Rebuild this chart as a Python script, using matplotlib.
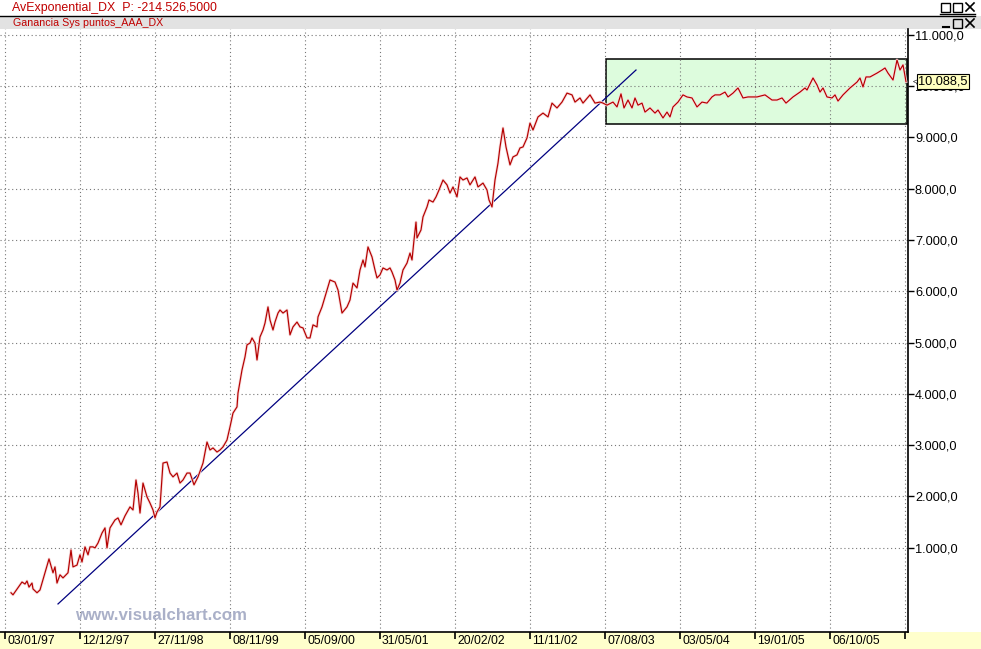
import matplotlib
matplotlib.use("Agg")
import matplotlib.pyplot as plt
from matplotlib.patches import Rectangle
from matplotlib.lines import Line2D
import matplotlib.patheffects as pe

plt.rcParams['font.family'] = ['Liberation Sans', 'DejaVu Sans']

# equity curve (bar index, points)
bars = [18, 24, 51, 60, 66, 72, 81, 84, 96, 105, 132, 144, 150, 156, 165, 174, 189, 198, 204, 216,
        225, 231, 240, 249, 255, 264, 270, 279, 291, 300, 306, 315, 330, 339, 348, 360, 375, 384, 393, 399,
        405, 414, 426, 435, 444, 450, 456, 465, 474, 486, 495, 504, 516, 525, 534, 546, 555, 567, 579, 594,
        606, 615, 624, 636, 645, 654, 666, 675, 684, 696, 699, 711, 720, 726, 735, 741, 750, 756, 765, 774,
        780, 789, 795, 804, 810, 819, 825, 834, 846, 855, 864, 876, 885, 894, 906, 915, 924, 936, 939, 951,
        966, 975, 990, 999, 1011, 1026, 1035, 1044, 1056, 1065, 1074, 1080, 1089, 1101, 1110, 1116, 1125, 1134, 1146, 1155,
        1161, 1170, 1176, 1185, 1194, 1206, 1215, 1221, 1227, 1233, 1236, 1248, 1254, 1266, 1272, 1284, 1293, 1302, 1314, 1326,
        1335, 1344, 1356, 1365, 1374, 1386, 1395, 1410, 1419, 1434, 1446, 1452, 1461, 1470, 1479, 1485, 1494, 1503, 1515, 1524,
        1536, 1545, 1554, 1566, 1575, 1584, 1599, 1614, 1629, 1641, 1656, 1671, 1686, 1701, 1710, 1725, 1734, 1755, 1770, 1785,
        1794, 1806, 1824, 1836, 1848, 1857, 1869, 1881, 1890, 1899, 1911, 1920, 1935, 1950, 1959, 1974, 1986, 1995, 2004, 2019,
        2034, 2046, 2061, 2076, 2091, 2106, 2121, 2130, 2145, 2160, 2169, 2184, 2199, 2214, 2229, 2244, 2256, 2280, 2301, 2316,
        2331, 2343, 2364, 2385, 2400, 2406, 2424, 2436, 2445, 2454, 2466, 2481, 2490, 2499, 2514, 2535, 2556, 2565, 2574, 2583,
        2595, 2616, 2631, 2640, 2649, 2664, 2676, 2685, 2694, 2703]
equity = [120, 80, 330, 290, 350, 230, 310, 195, 120, 175, 780, 510, 625, 310, 470, 410, 510, 955, 625, 660,
          860, 720, 1015, 860, 1015, 1015, 995, 1090, 1285, 1385, 995, 1385, 1540, 1580, 1445, 1620, 1795, 1735, 2320, 2065,
          1675, 2260, 1990, 1870, 1735, 1580, 1695, 1795, 2650, 2670, 2455, 2380, 2455, 2260, 2320, 2455, 2455, 2225, 2380, 2650,
          3060, 2905, 2945, 2865, 2905, 2965, 3100, 3355, 3625, 3745, 4015, 4465, 4720, 4955, 4990, 5090, 4990, 4660, 5110, 5245,
          5380, 5695, 5440, 5245, 5400, 5575, 5635, 5575, 5635, 5150, 5305, 5400, 5305, 5285, 5090, 5090, 5345, 5305, 5500, 5695,
          6025, 6220, 6180, 6025, 5575, 5695, 5830, 6160, 6065, 6415, 6610, 6475, 6865, 6670, 6415, 6260, 6320, 6455, 6415, 6455,
          6375, 6220, 6025, 6160, 6415, 6550, 6745, 6610, 7000, 7350, 7040, 7195, 7450, 7645, 7780, 7740, 7840, 7975, 8170, 8075,
          7915, 8035, 7840, 8230, 8170, 8210, 8075, 8230, 8035, 8110, 7975, 7780, 7645, 8170, 8500, 8815, 9185, 8815, 8465, 8620,
          8660, 8795, 8815, 8990, 9280, 9145, 9400, 9475, 9400, 9670, 9575, 9690, 9865, 9830, 9690, 9770, 9670, 9830, 9670, 9690,
          9670, 9630, 9690, 9595, 9850, 9575, 9730, 9575, 9770, 9630, 9670, 9495, 9575, 9475, 9535, 9380, 9495, 9400, 9595, 9690,
          9830, 9790, 9770, 9595, 9690, 9670, 9790, 9830, 9830, 9885, 9790, 9865, 9965, 9770, 9790, 9790, 9790, 9830, 9730, 9730,
          9770, 9670, 9790, 9885, 9965, 9925, 10160, 10025, 9885, 9965, 9790, 9770, 9830, 9710, 9830, 9965, 10080, 10160, 9985, 10180,
          10180, 10255, 10315, 10355, 10255, 10120, 10510, 10315, 10415, 10088.5]

trend_bars = [159, 1893]
trend_vals = [-98, 10315]

box_bars = [1803, 2706]
box_vals = [9260, 10530]

tick_bars = [0, 225, 450, 675, 900, 1125, 1350, 1575, 1800, 2025, 2250, 2475, 2700]
tick_dates = ['03/01/97', '12/12/97', '27/11/98', '08/11/99', '05/09/00', '31/05/01', '20/02/02',
              '11/11/02', '07/08/03', '03/05/04', '19/01/05', '06/10/05', '']
y_ticks = [1000, 2000, 3000, 4000, 5000, 6000, 7000, 8000, 9000, 10000, 11000]

last_value = 10088.5


def es_num(v):
    return f"{v:,.1f}".replace(',', 'X').replace('.', ',').replace('X', '.')


W, H = 981, 649
fig = plt.figure(figsize=(W / 100, H / 100), dpi=100)
fig.patch.set_facecolor('white')


def fy(py):
    return 1 - py / H


# bottom yellow band and header
fig.patches.append(Rectangle((0, 0), 1, 17 / H, transform=fig.transFigure,
                             facecolor='#ffffcc', edgecolor='none', zorder=-5))
fig.patches.append(Rectangle((0, fy(29)), 1, 13 / H, transform=fig.transFigure,
                             facecolor='#e2e2e2', edgecolor='none', zorder=-5))
fig.lines.append(Line2D([0, 975 / W], [fy(15.5), fy(15.5)], transform=fig.transFigure, color='black', lw=1))
fig.text(12 / W, fy(7.5), 'AvExponential_DX  P: -214.526,5000', color='#c00000', fontsize=8.9, va='center', ha='left')
fig.text(13 / W, fy(22.5), 'Ganancia Sys puntos_AAA_DX', color='#c00000', fontsize=7.7, va='center', ha='left')

# little window buttons
for row_y in (3, 19):
    for i, x0 in enumerate((941, 953, 965)):
        if row_y == 19 and i == 0:
            fig.lines.append(Line2D([(x0 + 2) / W, (x0 + 8) / W], [fy(row_y + 8), fy(row_y + 8)],
                                    transform=fig.transFigure, color='black', lw=1.5))
            continue
        if i == 2:
            fig.lines.append(Line2D([(x0 + 1) / W, (x0 + 9) / W], [fy(row_y), fy(row_y + 8)],
                                    transform=fig.transFigure, color='black', lw=1.2))
            fig.lines.append(Line2D([(x0 + 1) / W, (x0 + 9) / W], [fy(row_y + 8), fy(row_y)],
                                    transform=fig.transFigure, color='black', lw=1.2))
            continue
        fig.patches.append(Rectangle((x0 / W, fy(row_y + 9)), 9 / W, 9 / H, transform=fig.transFigure,
                                     facecolor='none', edgecolor='black', lw=1))
fig.lines.append(Line2D([940 / W, 975 / W], [fy(13.5), fy(13.5)], transform=fig.transFigure, color='black', lw=1))

ax = fig.add_axes([0, 17 / H, 908 / W, (632 - 29) / H])
ax.set_xlim(-15, 2709)
ax.set_ylim(-645, 11115)
ax.set_facecolor('white')

ax.add_patch(Rectangle((box_bars[0], box_vals[0]), box_bars[1] - box_bars[0], box_vals[1] - box_vals[0],
                       facecolor='#ddfcdd', edgecolor='black', lw=1.1, zorder=0.5))

for b in tick_bars:
    ax.axvline(b, color='#777777', lw=0.8, linestyle=(0, (1, 2.5)), zorder=1)
for v in y_ticks:
    ax.axhline(v, color='#777777', lw=0.8, linestyle=(0, (1, 2.5)), zorder=1)

ax.plot(trend_bars, trend_vals, color='#000080', lw=0.9, zorder=2)
ax.plot(bars, equity, color='#b40000', lw=0.85, zorder=3,
        path_effects=[pe.Stroke(linewidth=2.0, foreground='#f8dada'), pe.Normal()])

for s in ('top', 'left'):
    ax.spines[s].set_visible(False)
ax.spines['right'].set_linewidth(1.2)
ax.spines['bottom'].set_linewidth(1.2)

ax.yaxis.tick_right()
ax.set_yticks(y_ticks)
ax.set_yticklabels([es_num(v) for v in y_ticks])
ax.tick_params(axis='y', direction='out', length=4, width=1, pad=1, labelsize=9.2)

ax.set_xticks(tick_bars)
ax.set_xticklabels([])
ax.tick_params(axis='x', direction='out', length=5, width=1.2)
for b, d in zip(tick_bars, tick_dates):
    ax.annotate(d, xy=(b, 0), xycoords=('data', 'axes fraction'), xytext=(1.5, -2.5),
                textcoords='offset points', ha='left', va='top', fontsize=8.8)

# last value flag (covers the 10.000,0 label as in the original)
ax.annotate(es_num(last_value),
            xy=(1, last_value), xycoords=('axes fraction', 'data'), xytext=(7.5, 0),
            textcoords='offset points', ha='left', va='center', fontsize=9.2,
            bbox=dict(boxstyle='square,pad=0.12', facecolor='#ffffc0', edgecolor='black', lw=0.8),
            annotation_clip=False, zorder=10)
ax.annotate('<', xy=(1, last_value), xycoords=('axes fraction', 'data'), xytext=(3, 0),
            textcoords='offset points', ha='left', va='center', fontsize=5.5, annotation_clip=False)

fig.text(75 / W, fy(615), 'www.visualchart.com', color='#aab0c8', fontsize=12.2, fontweight='bold',
         va='center', ha='left')

fig.savefig('out.png', dpi=100)
